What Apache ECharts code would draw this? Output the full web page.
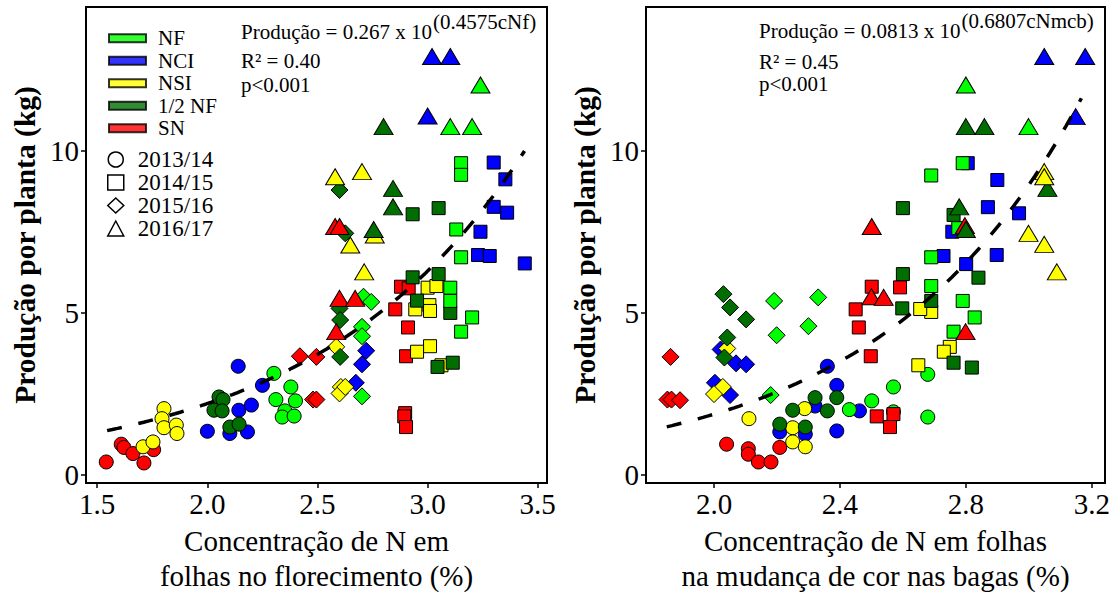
<!DOCTYPE html>
<html>
<head>
<meta charset="utf-8">
<script src="https://cdn.jsdelivr.net/npm/echarts@6/dist/echarts.min.js"></script>
<style>
  html, body { margin: 0; padding: 0; background: #fff; }
  #chart { width: 1117px; height: 592px; }
</style>
</head>
<body>
<div id="chart"></div>
<script>
// Treatments (colour) and seasons (marker shape)
const treatments = ['NF', 'NCI', 'NSI', '1/2 NF', 'SN'];
const treatmentColors = ['#00ff00', '#0000ff', '#ffff00', '#006e00', '#ff0000'];
const seasons = ['2013/14', '2014/15', '2015/16', '2016/17'];
const seasonSymbols = ['circle', 'rect', 'diamond', 'triangle'];

// Tick labels
const florTicks = [1.5, 2.0, 2.5, 3.0, 3.5];
const mcbTicks = [2.0, 2.4, 2.8, 3.2];
const yTicks = [0, 5, 10];

// Leaf N at flowering (%) vs yield per plant (kg): [N, kg, treatment index]
const flor1314 = [
  [1.541,0.39,4],[1.609,0.94,4],[1.621,0.84,4],[1.662,0.65,4],[1.712,0.36,4],[1.756,0.77,4],
  [2.140,3.35,1],[2.000,1.34,1],[2.102,1.27,1],[2.182,1.32,1],[2.143,1.99,1],[2.200,2.15,1],[2.250,2.76,1],
  [1.708,0.86,2],[1.753,1.01,2],[1.803,2.04,2],[1.794,1.73,2],[1.803,1.45,2],[1.859,1.53,2],[1.862,1.27,2],
  [2.053,2.40,3],[2.071,2.32,3],[2.030,1.99,3],[2.067,1.97,3],[2.102,1.47,3],[2.144,1.56,3],
  [2.302,3.13,0],[2.379,2.71,0],[2.311,2.32,0],[2.400,2.28,0],[2.352,1.97,0],[2.340,1.78,0],[2.394,1.81,0]
];
const flor1415 = [
  [2.879,5.81,4],[2.914,5.76,4],[2.853,5.11,4],[2.911,4.55,4],[2.902,3.66,4],[2.898,1.90,4],[2.894,1.80,4],[2.902,1.47,4],
  [3.229,6.79,1],[3.282,6.76,1],[3.441,6.53,1],[3.300,9.65,1],[3.353,9.13,1],[3.300,8.28,1],[3.361,8.10,1],[3.240,7.51,1],
  [3.000,5.78,2],[3.040,5.83,2],[3.008,5.24,2],[2.944,5.11,2],[3.011,5.06,2],[3.011,3.97,2],[2.952,3.80,2],[3.063,3.38,2],
  [2.932,6.10,3],[3.050,6.20,3],[2.952,5.38,3],[3.103,5.00,3],[3.045,3.33,3],[3.114,3.46,3],[2.932,8.05,3],[3.050,8.24,3],
  [3.152,6.72,0],[3.103,5.78,0],[3.103,5.37,0],[3.202,4.86,0],[3.152,4.42,0],[3.152,9.63,0],[3.152,9.27,0],[3.130,7.58,0]
];
const flor1516 = [
  [2.420,3.66,4],[2.495,3.64,4],[2.480,2.32,4],[2.495,2.32,4],
  [2.721,3.83,1],[2.702,3.41,1],[2.674,2.84,1],
  [2.585,3.95,2],[2.606,2.71,2],[2.600,2.51,2],[2.626,2.71,2],
  [2.600,8.80,3],[2.626,7.46,3],[2.600,5.14,3],[2.603,4.78,3],[2.603,3.64,3],
  [2.709,5.50,0],[2.744,5.34,0],[2.702,4.57,0],[2.702,4.28,0],[2.702,2.42,0]
];
const flor1617 = [
  [2.580,9.21,2],[2.702,9.37,2],[2.649,7.10,2],[2.712,6.27,2],[2.760,7.41,2],
  [2.800,10.76,3],[2.843,8.85,3],[2.843,8.28,3],[2.755,7.58,3],
  [2.580,7.67,4],[2.600,7.67,4],[2.600,5.45,4],[2.671,5.45,4],[2.585,4.42,4],
  [3.020,12.93,1],[3.103,12.93,1],[3.000,11.09,1],
  [3.240,12.05,0],[3.103,10.76,0],[3.202,10.76,0]
];

// Leaf N at veraison (%) vs yield per plant (kg): [N, kg, treatment index]
const mcb1314 = [
  [2.040,0.94,4],[2.109,0.80,4],[2.109,0.63,4],[2.141,0.39,4],[2.181,0.39,4],[2.209,0.84,4],
  [2.209,1.32,1],[2.290,1.25,1],[2.321,2.12,1],[2.390,2.76,1],[2.360,3.35,1],[2.390,1.35,1],[2.462,1.97,1],
  [2.111,1.73,2],[2.250,1.45,2],[2.250,1.01,2],[2.290,0.86,2],[2.288,2.04,2],
  [2.209,1.56,3],[2.290,1.47,3],[2.250,1.99,3],[2.321,2.38,3],[2.360,1.97,3],[2.390,2.38,3],
  [2.430,2.01,0],[2.501,2.28,0],[2.679,3.10,0],[2.570,2.71,0],[2.570,1.94,0],[2.679,1.78,0]
];
const mcb1415 = [
  [2.501,5.81,4],[2.591,5.79,4],[2.450,5.11,4],[2.460,4.55,4],[2.498,3.66,4],[2.517,1.80,4],[2.570,1.87,4],[2.559,1.47,4],
  [2.729,6.76,1],[2.898,6.79,1],[2.801,6.51,1],[2.806,9.63,1],[2.900,9.11,1],[2.870,8.27,1],[2.969,8.08,1],[2.757,7.51,1],
  [2.690,5.03,2],[2.655,5.12,2],[2.749,3.95,2],[2.730,3.80,2],[2.649,3.38,2],
  [2.600,6.20,3],[2.840,6.09,3],[2.690,5.37,3],[2.598,5.14,3],[2.761,3.46,3],[2.819,3.31,3],[2.600,8.24,3],[2.761,8.03,3],
  [2.690,6.72,0],[2.690,5.83,0],[2.790,5.37,0],[2.828,4.86,0],[2.761,4.42,0],[2.790,9.63,0],[2.690,9.25,0],[2.776,7.62,0]
];
const mcb1516 = [
  [1.862,3.64,4],[1.852,2.32,4],[1.865,2.32,4],[1.892,2.30,4],
  [2.021,3.87,1],[2.070,3.44,1],[2.102,3.41,1],[2.003,2.84,1],[2.051,2.46,1],
  [2.042,3.90,2],[2.028,2.71,2],[2.000,2.49,2],
  [2.030,5.58,3],[2.051,5.17,3],[2.102,4.80,3],[2.042,4.24,3],[2.033,3.62,3],
  [2.191,5.37,0],[2.331,5.48,0],[2.199,4.31,0],[2.300,4.59,0],[2.180,2.46,0]
];
const mcb1617 = [
  [2.501,7.67,4],[2.797,7.70,4],[2.500,5.50,4],[2.539,5.48,4],[2.799,4.42,4],
  [2.800,10.76,3],[2.859,10.76,3],[3.059,8.85,3],[2.779,8.28,3],[2.800,7.58,3],
  [3.049,9.37,2],[3.049,9.21,2],[2.999,7.46,2],[3.049,7.12,2],[3.089,6.27,2],
  [3.049,12.93,1],[3.179,12.93,1],[3.149,11.07,1],
  [2.800,12.05,0],[2.999,10.76,0]
];

// Exponential fits: yield = a * 10^(b * N)
const fitFlorCoef = [0.267, 0.4575];
const fitFlorRange = [1.545, 3.44];
const fitMcbCoef = [0.0813, 0.6807];
const fitMcbRange = [1.85, 3.167];

const serif = '"Liberation Serif", "Times New Roman", serif';

function fitCurve(coef, range) {
  const pts = [];
  const n = 80;
  for (let i = 0; i <= n; i++) {
    const x = range[0] + (range[1] - range[0]) * i / n;
    pts.push([x, coef[0] * Math.pow(10, coef[1] * x)]);
  }
  return pts;
}

const symbolSizes = { circle: 14, rect: 13, diamond: 17, triangle: [19, 16] };

function seasonSeries(data, seasonIdx, gridIdx) {
  const sym = seasonSymbols[seasonIdx];
  return {
    name: seasons[seasonIdx],
    type: 'scatter',
    xAxisIndex: gridIdx,
    yAxisIndex: gridIdx,
    symbol: sym,
    symbolSize: symbolSizes[sym],
    data: data,
    itemStyle: {
      color: p => treatmentColors[p.data[2]],
      borderColor: '#000',
      borderWidth: 1,
      opacity: 1
    },
    emphasis: { disabled: true },
    z: 3
  };
}

const axisFont = 29;

function xAxisCfg(gridIdx, min, max, ticks, title) {
  return {
    type: 'value', gridIndex: gridIdx, min: min, max: max,
    splitLine: { show: false },
    axisLine: { show: true, onZero: false, lineStyle: { color: '#000', width: 2 } },
    axisTick: { show: true, customValues: ticks, length: 5, lineStyle: { color: '#000', width: 1.5 } },
    axisLabel: { customValues: ticks, formatter: v => v.toFixed(1), fontFamily: serif, fontSize: axisFont, color: '#000', margin: 6 },
    name: title, nameLocation: 'middle', nameGap: 40,
    nameTextStyle: { fontFamily: serif, fontSize: axisFont, lineHeight: 35, color: '#000' }
  };
}

function yAxisCfg(gridIdx) {
  return {
    type: 'value', gridIndex: gridIdx, min: -0.26, max: 14.46,
    splitLine: { show: false },
    axisLine: { show: true, onZero: false, lineStyle: { color: '#000', width: 2 } },
    axisTick: { show: true, customValues: yTicks, length: 5, lineStyle: { color: '#000', width: 1.5 } },
    axisLabel: { customValues: yTicks, fontFamily: serif, fontSize: axisFont, color: '#000', margin: 7 },
    name: 'Produção por planta (kg)', nameLocation: 'middle', nameGap: 46,
    nameTextStyle: { fontFamily: serif, fontSize: 29.5, fontWeight: 'bold', color: '#000' }
  };
}

function fitSeries(coef, range, gridIdx) {
  return {
    type: 'line', xAxisIndex: gridIdx, yAxisIndex: gridIdx,
    data: fitCurve(coef, range), showSymbol: false, silent: true,
    lineStyle: { color: '#000', width: 3.5, type: [15, 17], cap: 'butt' },
    z: 4
  };
}

// Empty series that only feed the colour legend
const legendSeries = treatments.map((t, i) => ({
  name: t, type: 'scatter', data: [], xAxisIndex: 0, yAxisIndex: 0,
  itemStyle: { color: treatmentColors[i], borderColor: '#000', borderWidth: 1 }
}));

// Equation block: base text followed by a raised exponent, then R² and p
const eqFontSize = 21;
const measureCtx = document.createElement('canvas').getContext('2d');
measureCtx.font = eqFontSize + 'px ' + serif;

function equationBlock(x, y, base, exponent, r2, p, r2Gap) {
  const st = { fontFamily: serif, fontSize: eqFontSize, fill: '#000' };
  const w = measureCtx.measureText(base).width;
  return [
    { type: 'text', left: x, top: y, style: Object.assign({ text: base }, st) },
    { type: 'text', left: x + w + 1, top: y - 10, style: Object.assign({ text: exponent }, st) },
    { type: 'text', left: x, top: y + r2Gap, style: Object.assign({ text: r2 }, st) },
    { type: 'text', left: x, top: y + 53, style: Object.assign({ text: p }, st) }
  ];
}

const gridBase = { top: 7, height: 476, show: true, borderColor: '#000', borderWidth: 2, backgroundColor: 'transparent', containLabel: false, outerBoundsMode: 'none' };

const chart = echarts.init(document.getElementById('chart'), null, { renderer: 'svg' });
chart.setOption({
  backgroundColor: '#fff',
  animation: false,
  textStyle: { fontFamily: serif },
  grid: [
    Object.assign({ left: 86, width: 461 }, gridBase),
    Object.assign({ left: 646, width: 459 }, gridBase)
  ],
  xAxis: [
    xAxisCfg(0, 1.449, 3.542, florTicks, 'Concentração de N em\nfolhas no florecimento (%)'),
    xAxisCfg(1, 1.784, 3.242, mcbTicks, 'Concentração de N em folhas\nna mudança de cor nas bagas (%)')
  ],
  yAxis: [yAxisCfg(0), yAxisCfg(1)],
  legend: [
    {
      left: 108, top: 27, orient: 'vertical', itemGap: 0, padding: 0,
      itemWidth: 37, itemHeight: 8, icon: 'rect', selectedMode: false,
      data: treatments,
      textStyle: { fontFamily: serif, fontSize: 21, color: '#000', lineHeight: 22.5, padding: [0, 0, 0, 7] }
    },
    {
      left: 107, top: 148, orient: 'vertical', itemGap: 0, padding: 0,
      itemWidth: 16, itemHeight: 15, selectedMode: false,
      data: seasons.map((s, i) => ({
        name: s, icon: seasonSymbols[i],
        itemStyle: { color: '#fff', borderColor: '#000', borderWidth: 1.5 }
      })),
      textStyle: { fontFamily: serif, fontSize: 23, color: '#000', lineHeight: 21, padding: [0, 0, 0, 9] }
    }
  ],
  graphic: []
    .concat(equationBlock(241, 21, 'Produção = 0.267 x 10', '(0.4575cNf)', 'R² = 0.40', 'p<0.001', 29))
    .concat(equationBlock(759, 20, 'Produção = 0.0813 x 10', '(0.6807cNmcb)', 'R² = 0.45', 'p<0.001', 31)),
  series: [
    seasonSeries(flor1314, 0, 0), seasonSeries(flor1415, 1, 0),
    seasonSeries(flor1516, 2, 0), seasonSeries(flor1617, 3, 0),
    seasonSeries(mcb1314, 0, 1), seasonSeries(mcb1415, 1, 1),
    seasonSeries(mcb1516, 2, 1), seasonSeries(mcb1617, 3, 1),
    fitSeries(fitFlorCoef, fitFlorRange, 0),
    fitSeries(fitMcbCoef, fitMcbRange, 1)
  ].concat(legendSeries)
});
</script>
</body>
</html>
